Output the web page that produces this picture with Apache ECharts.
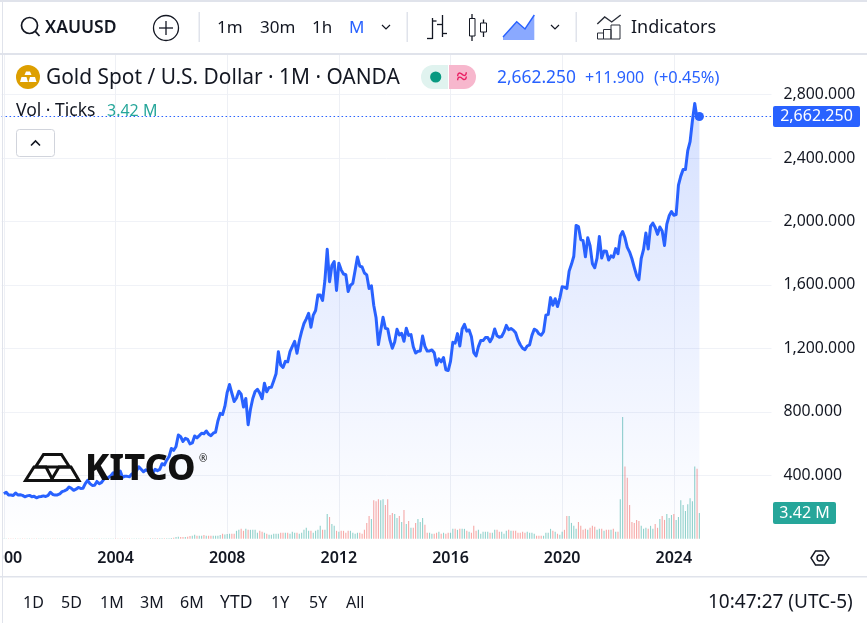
<!DOCTYPE html>
<html>
<head>
<meta charset="utf-8">
<style>html,body{margin:0;padding:0;background:#fff}#c{width:867px;height:623px}</style>
<script src="https://cdn.jsdelivr.net/npm/echarts@6/dist/echarts.min.js"></script>
</head>
<body>
<div id="c"></div>
<script>
// Monthly closes, XAUUSD
const close2000 = [283,293,276,275,272,288,276,277,273,264,270,273];
const close2001 = [265,267,258,264,266,270,266,273,293,279,275,276];
const close2002 = [282,297,302,309,326,318,305,312,323,317,318,347];
const close2003 = [368,347,336,337,361,346,355,375,385,386,398,416];
const close2004 = [400,396,426,387,394,393,391,408,416,428,453,438];
const close2005 = [422,434,428,435,415,437,429,437,473,465,495,518];
const close2006 = [569,557,582,654,643,613,633,626,598,604,648,636];
const close2007 = [650,665,662,679,659,650,665,672,742,790,783,834];
const close2008 = [923,972,917,865,887,930,911,830,884,719,816,884];
const close2009 = [928,942,918,883,980,926,954,955,996,1040,1179,1096];
const close2010 = [1080,1118,1115,1180,1213,1244,1169,1248,1307,1357,1386,1421];
const close2011 = [1333,1410,1439,1536,1536,1502,1628,1825,1620,1722,1747,1565];
const close2012 = [1737,1695,1669,1664,1559,1598,1610,1692,1776,1719,1713,1675];
const close2013 = [1663,1578,1595,1472,1393,1224,1313,1396,1327,1323,1250,1201];
const close2014 = [1240,1321,1284,1295,1245,1327,1282,1287,1210,1171,1182,1184];
const close2015 = [1278,1213,1183,1184,1190,1172,1095,1134,1115,1142,1065,1060];
const close2016 = [1118,1238,1233,1293,1215,1322,1351,1309,1316,1273,1173,1152];
const close2017 = [1211,1249,1249,1268,1269,1242,1269,1322,1280,1270,1275,1303];
const close2018 = [1345,1318,1325,1315,1298,1253,1223,1201,1192,1215,1222,1282];
const close2019 = [1321,1313,1292,1283,1305,1409,1414,1520,1472,1513,1464,1517];
const close2020 = [1589,1586,1577,1687,1730,1781,1975,1968,1886,1879,1777,1898];
const close2021 = [1847,1734,1708,1769,1906,1770,1814,1813,1757,1783,1774,1829];
const close2022 = [1797,1909,1937,1897,1837,1807,1765,1711,1660,1633,1768,1824];
const close2023 = [1928,1827,1969,1990,1962,1919,1965,1940,1849,1983,2036,2063];
const close2024 = [2039,2044,2230,2286,2327,2327,2447,2503,2635,2744,2650,2662.25];

// Monthly tick volume, millions
const vol2000to2005 = [
  .04,.04,.04,.04,.04,.04,.04,.04,.04,.04,.04,.04,
  .04,.04,.04,.04,.04,.04,.04,.04,.04,.04,.04,.04,
  .04,.04,.04,.04,.04,.04,.04,.04,.04,.04,.04,.04,
  .04,.04,.04,.04,.04,.04,.04,.04,.04,.04,.04,.04,
  .04,.04,.04,.04,.04,.04,.04,.04,.04,.04,.04,.04,
  .04,.04,.04,.05,.05,.05,.05,.05,.05,.05,.06,.06];
const vol2006to2010 = [
  .09,.13,.22,.26,.22,.22,.22,.26,.35,.39,.53,.39,
  .39,.39,.48,.39,.39,.39,.39,.39,.39,.48,.66,.57,
  .61,.66,.66,.66,1.05,1.18,1.31,1.05,1.31,1.18,1.18,1.18,
  1.18,.79,1.05,.92,.79,.66,.53,.53,.66,.66,.66,.79,
  .79,.79,.79,.66,.92,.79,.79,.66,.79,1.18];
const vol2010to2015 = [
  1.45,1.05,1.05,.79,1.05,1.18,1.71,1.18,1.18,3.29,2.89,1.97,1.71,1.05,.92,1.05,1.05,.79,
  1.05,1.05,.79,.66,.79,.79,.66,1.18,2.10,3.02,2.63,5.12,4.99,5.26,5.12,5.26,4.47,5.26,
  3.15,3.42,3.29,2.76,3.02,2.23,3.81,1.97,2.37,1.45,1.45,2.10,2.63,2.23,2.76,1.84,.79,.79,.66,.66];
const vol2015to2019 = [
  .79,.92,.66,.79,.66,.79,.79,1.31,1.31,1.18,1.31,1.31,1.31,1.05,.92,.79,1.71,1.05,1.18,.66,
  .92,.92,.92,.79,.79,1.18,1.18,.92,.92,.66,1.05,1.18,1.05,1.05,1.05,.79,.79,.92,.79,.92,
  .79,.79,.66,.39,.39,.39,.39,.79,.79,1.31,1.05,.92,.66,.53];
const vol2020to2024 = [
  .92,1.18,3.02,3.02,2.10,1.71,1.31,2.23,1.71,1.18,1.31,1.18,
  1.45,1.71,1.58,1.18,1.31,1.31,1.05,1.18,1.18,1.18,1.31,.92,
  .92,5.26,16.2,9.6,8.1,4.47,2.23,2.10,2.50,2.37,1.71,1.31,
  1.45,1.31,1.71,1.31,1.97,1.45,2.63,3.02,2.50,3.29,2.76,3.15,
  3.29,2.50,2.89,5.12,4.47,3.68,4.60,5.39,4.99,9.6,9.3,3.42];

const startYear = 2000, yearsShown = 27, monthsPastEnd = 7;
const closes = [].concat(close2000,close2001,close2002,close2003,close2004,close2005,close2006,
  close2007,close2008,close2009,close2010,close2011,close2012,close2013,close2014,close2015,
  close2016,close2017,close2018,close2019,close2020,close2021,close2022,close2023,close2024);
const volumes = [].concat(vol2000to2005,vol2006to2010,vol2010to2015,vol2015to2019,vol2020to2024);

const months = ['1999-12'];
for (let y = startYear; y < startYear + yearsShown; y++)
  for (let m = 1; m <= 12; m++) months.push(y + '-' + String(m).padStart(2,'0'));
for (let m = 1; m <= monthsPastEnd; m++) months.push((startYear + yearsShown) + '-' + String(m).padStart(2,'0'));

const INK = '#131722', BLUE = '#2962ff', TEAL = '#26a69a', RULE = '#e0e3eb', FONT = '"Noto Sans"';
const isYearTick = (i, v) => v.endsWith('-01') && (+v.slice(0,4)) % 4 === 0;
const lastVal = closes[closes.length-1], lastIdx = months[closes.length];

const priceData = [null].concat(closes);
const volData = [null].concat(volumes.map((v,i) => ({
  value: v,
  itemStyle: { color: (i === 0 || closes[i] >= closes[i-1]) ? 'rgba(38,166,154,0.5)' : 'rgba(239,83,80,0.5)' }
})));

// ---- chart chrome ----
const g = [];
const txt = (text,x,y,size,fill,weight,align) => g.push({type:'text',z:100,x,y,silent:true,style:{text,fill:fill||INK,
  font:(weight||400)+' '+size+'px '+FONT,textAlign:align||'left',textVerticalAlign:'middle'}});
const ln = (x1,y1,x2,y2,stroke,w) => g.push({type:'line',z:100,silent:true,shape:{x1,y1,x2,y2},style:{stroke:stroke||INK,lineWidth:w||1.3}});
const rect = (x,y,width,height,fill,r,stroke) => g.push({type:'rect',z:100,silent:true,shape:{x,y,width,height,r:r||0},style:{fill:fill||'none',stroke:stroke||'none',lineWidth:1}});
const poly = (points,stroke,w,fill,closed) => g.push({type:closed?'polygon':'polyline',z:100,silent:true,shape:{points},style:{stroke:stroke||'none',lineWidth:w||1.3,fill:fill||'none',lineJoin:'miter'}});
const circ = (cx,cy,r,fill,stroke,w) => g.push({type:'circle',z:100,silent:true,shape:{cx,cy,r},style:{fill:fill||'none',stroke:stroke||'none',lineWidth:w||1.3}});

// cover for the clipped first year label
rect(0,545,3.5,30,'#fff');
// frame
rect(0,0,867,2,RULE);
rect(2,0,1,623,RULE);
rect(0,53,867,2,RULE);
rect(0,576,867,1.5,RULE);
// top toolbar
circ(29.5,25.5,8,null,INK,1.7); ln(35.3,31.3,39.5,36,INK,1.8);
txt('XAUUSD',45,28,17.5,INK,600);
circ(166,28,12.5,null,INK,1.3); ln(159,28,173,28); ln(166,21,166,35);
rect(198.5,12,1.5,30,RULE); rect(406.5,12,1.5,30,RULE); rect(575.5,12,1.5,30,RULE);
txt('1m',217,28,17); txt('30m',260,28,17); txt('1h',312,28,17); txt('M',349,28,17,BLUE);
const chev = (x,y) => poly([[x-4,y-2],[x,y+2],[x+4,y-2]],INK,1.2);
chev(386,27); chev(555,27);
ln(432.5,18,432.5,39); ln(427,38.5,432.5,38.5); ln(432.5,21,436.5,21);
ln(442.5,15,442.5,37); ln(437,24.5,442.5,24.5); ln(442.5,33.5,447,33.5);
ln(472,14,472,18.5); ln(472,36,472,41); rect(469.5,18.5,5.5,17.5,null,0,INK);
ln(483.5,19.5,483.5,23); ln(483.5,32,483.5,37); rect(480.5,23,6,9,null,0,INK);
poly([[503,40],[503,37],[516.7,21.7],[525,29],[534.3,15],[534.3,40]],null,1,'rgba(41,98,255,0.55)',true);
poly([[503,37],[516.7,21.7],[525,29],[534.3,15]],BLUE,1.4);
poly([[597.3,24],[604.7,17],[611.7,22],[620.7,15]],'#2a2e39',1.4);
rect(597.5,33,6,6,null,0,'#2a2e39'); rect(603.5,29.5,7.5,9.5,null,0,'#2a2e39'); rect(611,25,9,14,null,0,'#2a2e39');
txt('Indicators',631,28,18);
// legend
circ(28,77,12,'#dd9f00');
poly([[24.5,75],[26,71.5],[30,71.5],[31.5,75]],null,1,'#fff',true);
poly([[20,82],[21.5,77],[26.5,77],[28,82]],null,1,'#fff',true);
poly([[28.5,82],[30,77],[35,77],[36.5,82]],null,1,'#fff',true);
txt('Gold Spot / U.S. Dollar \u00b7 1M \u00b7 OANDA',46,78,20.9);
rect(421,65,27,24,'#e0f3ef',[12,0,0,12]);
rect(449,65,27,24,'#f7b7cd',[0,12,12,0]);
circ(435.7,77,5.6,'#089981');
txt('\u2248',462,77,20,'#e91e63',700,'center');
txt('2,662.250',497,78,17.4,BLUE); txt('+11.900',585,78,16,BLUE); txt('(+0.45%)',654,78,16.4,BLUE);
txt('Vol \u00b7 Ticks',16,111,17.5); txt('3.42 M',107,111,16,TEAL);
rect(16.5,129.5,38,27,'#fff',3,'#d1d4dc');
poly([[31,145.5],[35.5,141],[40,145.5]],INK,1.6);
// price and volume tags
rect(773,106,87,21,BLUE,2);
txt('2,662.250',816.5,116.5,16,'#fff',400,'center');
rect(773,502,63,22,TEAL,2);
txt('3.42 M',804.5,513,16,'#fff',400,'center');
// settings hexagon
poly([[811,558],[815.5,551],[824.5,551],[829,558],[824.5,565],[815.5,565]],INK,1.4,null,true);
circ(820,558,3,null,INK,1.4);
// range buttons and clock
txt('1D',23,603,16); txt('5D',61,603,16); txt('1M',100,603,16); txt('3M',140,603,16); txt('6M',180,603,16);
txt('YTD',220,603,17.5); txt('1Y',271,603,16); txt('5Y',309,603,16); txt('All',346,603,16);
txt('10:47:27 (UTC-5)',708,603,19);
// KITCO watermark
poly([[43.5,454.5],[61.5,454.5],[69.5,467],[35.5,467]],'#111',3,null,true);
poly([[25.5,480.5],[34,467],[46,467],[53,480.5]],'#111',3,null,true);
poly([[51,480.5],[59,467],[71,467],[79,480.5]],'#111',3,null,true);
txt('KITCO',85,470,36,'#111',800);
txt('\u00ae',199,459,10,'#111');

const chart = echarts.init(document.getElementById('c'), null, {renderer:'canvas'});
chart.setOption({
  animation:false,
  backgroundColor:'#fff',
  textStyle:{fontFamily:FONT},
  graphic:{elements:g},
  grid:{left:1.57,right:95.5,top:54,bottom:84.3,outerBoundsMode:'none'},
  xAxis:{
    type:'category',data:months,boundaryGap:false,
    axisLine:{show:false},axisTick:{show:false},
    axisLabel:{interval:isYearTick,formatter:v=>v.slice(0,4),color:INK,fontSize:16,fontWeight:600,margin:12,fontFamily:FONT,hideOverlap:false},
    splitLine:{show:true,interval:isYearTick,lineStyle:{color:'#eef0f5',width:1}}
  },
  yAxis:[
    {type:'value',position:'right',min:0,max:3056,interval:400,
      axisLine:{show:false},axisTick:{show:false},
      axisLabel:{showMinLabel:false,showMaxLabel:false,margin:12,color:INK,fontSize:15.8,fontFamily:FONT,padding:[0,0,3,0],
        formatter:v=>v.toLocaleString('en-US',{minimumFractionDigits:3})},
      splitLine:{show:true,showMinLine:false,showMaxLine:false,lineStyle:{color:'#f0f2f7',width:1}}},
    {type:'value',min:0,max:64.5,show:false,splitLine:{show:false}}
  ],
  series:[
    {type:'bar',name:'Vol',yAxisIndex:1,data:volData,barWidth:1.1,silent:true,z:1},
    {type:'line',name:'XAUUSD',data:priceData,showSymbol:false,silent:true,z:3,
      lineStyle:{color:BLUE,width:3,join:'round'},
      areaStyle:{color:new echarts.graphic.LinearGradient(0,0,0,1,[
        {offset:0,color:'rgba(41,98,255,0.28)'},{offset:1,color:'rgba(41,98,255,0)'}])},
      markLine:{silent:true,symbol:'none',label:{show:false},animation:false,
        lineStyle:{color:BLUE,type:[1.5,2.5],width:1.2,opacity:1},data:[{yAxis:lastVal}]},
      markPoint:{silent:true,symbol:'circle',symbolSize:9,animation:false,label:{show:false},
        itemStyle:{color:BLUE},data:[{coord:[lastIdx,lastVal]}]}}
  ]
});
</script>
</body>
</html>
